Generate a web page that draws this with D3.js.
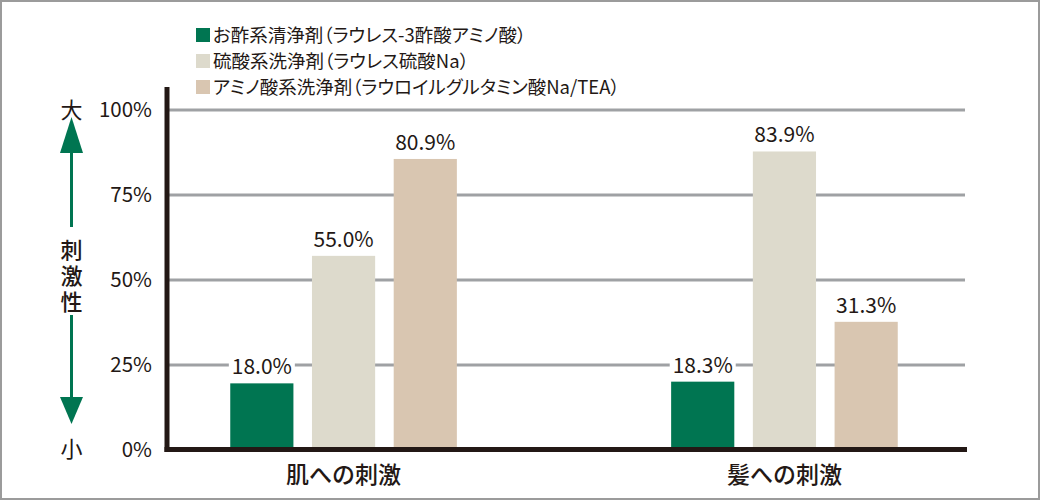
<!DOCTYPE html>
<html>
<head>
<meta charset="utf-8">
<script src="https://cdn.jsdelivr.net/npm/d3@7"></script>
<style>
  body { margin: 0; background: #fff; }
  svg { display: block; font-family: "Noto Sans CJK JP", "Noto Sans", sans-serif; }
</style>
</head>
<body>
<div class="chart"></div>
<script>
// categories and series
var categories = ['肌への刺激', '髪への刺激']
var seriesNames = [
    'お酢系清浄剤（ラウレス-3酢酸アミノ酸）',
    '硫酸系洗浄剤（ラウレス硫酸Na）',
    'アミノ酸系洗浄剤（ラウロイルグルタミン酸Na/TEA）'
]
var seriesColors = ['#007551', '#dddacc', '#d9c6b1']

// printed labels
var vinegarLabels = [18.0, 18.3]
var sulfateLabels = [55.0, 83.9]
var aminoLabels = [80.9, 31.3]

// bar heights as drawn in the picture (they do not follow the labels exactly)
var vinegarBars = [19.6, 20.1]
var sulfateBars = [57.1, 87.8]
var aminoBars = [85.6, 37.7]

var yTicks = [0, 25, 50, 75, 100]

var W = 1040, H = 500
var x0 = 167, x1 = 965, yBase = 450, yTop = 110
var ink = '#231815'

var svg = d3.select('.chart')
    .append('svg')
    .attr('width', W)
    .attr('height', H)

// frame
svg.append('rect')
    .attr('x', 1).attr('y', 1)
    .attr('width', W - 2).attr('height', H - 2)
    .attr('fill', '#fff')
    .attr('stroke', '#9b9b9b')
    .attr('stroke-width', 2)

var yScale = d3.scaleLinear().domain([0, 100]).range([yBase, yTop])

var xScale = d3.scaleBand()
    .domain(categories)
    .range([x0 - 2, x1 - 2])
    .paddingInner(0.486)
    .paddingOuter(0.148)

var xSub = d3.scaleBand()
    .domain([0, 1, 2])
    .range([0, xScale.bandwidth()])
    .paddingInner(0.227)

// grid
svg.append('g')
    .selectAll('line')
    .data(yTicks.filter(function (d) { return d > 0 }))
    .enter().append('line')
    .attr('x1', x0).attr('x2', x1)
    .attr('y1', function (d) { return yScale(d) })
    .attr('y2', function (d) { return yScale(d) })
    .attr('stroke', '#9fa1a4')
    .attr('stroke-width', 3)

// y axis labels
var yAxis = d3.axisLeft(yScale)
    .tickValues(yTicks)
    .tickSize(0)
    .tickPadding(0)
    .tickFormat(function (d) { return d + '%' })
var yg = svg.append('g')
    .attr('transform', 'translate(152,0)')
    .call(yAxis)
yg.select('.domain').remove()
yg.selectAll('text')
    .attr('font-size', 20.5)
    .attr('fill', ink)
    .attr('font-family', '"Noto Sans CJK JP", sans-serif')
    .attr('dy', '0.32em')

// bars
var rows = []
var bars = [vinegarBars, sulfateBars, aminoBars]
var labels = [vinegarLabels, sulfateLabels, aminoLabels]
categories.forEach(function (c, ci) {
    bars.forEach(function (b, si) {
        rows.push({cat: c, s: si, h: b[ci], label: labels[si][ci]})
    })
})

svg.append('g')
    .selectAll('rect')
    .data(rows)
    .enter().append('rect')
    .attr('x', function (d) { return xScale(d.cat) + xSub(d.s) })
    .attr('width', xSub.bandwidth())
    .attr('y', function (d) { return yScale(d.h) })
    .attr('height', function (d) { return yBase - yScale(d.h) })
    .attr('fill', function (d) { return seriesColors[d.s] })

// value labels with white knockout
var lab = svg.append('g')
    .selectAll('g')
    .data(rows)
    .enter().append('g')
    .attr('transform', function (d) {
        return 'translate(' + (xScale(d.cat) + xSub(d.s) + xSub.bandwidth() / 2) + ',' + (yScale(d.h) - 9) + ')'
    })
lab.append('rect')
    .attr('x', -33).attr('y', -18)
    .attr('width', 66).attr('height', 20)
    .attr('fill', '#fff')
lab.append('text')
    .attr('text-anchor', 'middle')
    .attr('font-size', 21)
    .attr('fill', ink)
    .text(function (d) { return d.label.toFixed(1) + '%' })

// axes lines
svg.append('line')
    .attr('x1', x0).attr('x2', x0)
    .attr('y1', 87).attr('y2', 452)
    .attr('stroke', ink).attr('stroke-width', 5)
svg.append('line')
    .attr('x1', x0 - 2.5).attr('x2', 967)
    .attr('y1', yBase - 0.5).attr('y2', yBase - 0.5)
    .attr('stroke', ink).attr('stroke-width', 5)

// category labels
svg.append('g')
    .selectAll('text')
    .data(categories)
    .enter().append('text')
    .attr('x', function (d) { return xScale(d) + xScale.bandwidth() / 2 })
    .attr('y', 483)
    .attr('text-anchor', 'middle')
    .attr('font-size', 23)
    .attr('font-weight', 500)
    .attr('fill', ink)
    .text(function (d) { return d })

// legend
var leg = svg.append('g')
    .selectAll('g')
    .data(seriesNames)
    .enter().append('g')
    .attr('transform', function (d, i) { return 'translate(196,' + (28 + i * 26) + ')' })
leg.append('rect')
    .attr('width', 14).attr('height', 14)
    .attr('fill', function (d, i) { return seriesColors[i] })
leg.append('text')
    .attr('x', 17).attr('y', 13.5)
    .attr('font-size', 18.5)
    .attr('fill', ink)
    .style('font-feature-settings', '"palt"')
    .text(function (d) { return d })

// left annotation: 大 ↑ 刺激性 ↓ 小
var green = '#007551', ax = 71.5
var side = svg.append('g').attr('fill', ink).attr('font-size', 22).attr('text-anchor', 'middle')
side.append('text').attr('x', ax).attr('y', 118).text('大')
side.append('text').attr('x', ax).attr('y', 457).text('小')
side.append('text')
    .attr('x', ax).attr('y', 239)
    .attr('text-anchor', 'start')
    .attr('font-weight', 500)
    .style('writing-mode', 'vertical-rl')
    .style('text-orientation', 'upright')
    .style('letter-spacing', '4px')
    .text('刺激性')
svg.append('line').attr('x1', ax).attr('x2', ax).attr('y1', 150).attr('y2', 227)
    .attr('stroke', green).attr('stroke-width', 3)
svg.append('path').attr('d', 'M' + (ax - 11.5) + ',153L' + (ax + 11.5) + ',153L' + ax + ',117Z').attr('fill', green)
svg.append('line').attr('x1', ax).attr('x2', ax).attr('y1', 315).attr('y2', 400)
    .attr('stroke', green).attr('stroke-width', 3)
svg.append('path').attr('d', 'M' + (ax - 11.5) + ',397L' + (ax + 11.5) + ',397L' + ax + ',424Z').attr('fill', green)
</script>
</body>
</html>
